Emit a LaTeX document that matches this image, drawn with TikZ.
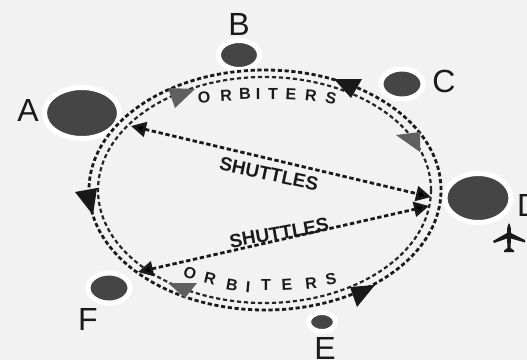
\documentclass[tikz,border=0pt]{standalone}
\usepackage{fontspec}
\setmainfont{Liberation Sans}
\usetikzlibrary{shapes.geometric,arrows.meta}
\definecolor{bgc}{HTML}{F2F2F2}
\definecolor{planet}{HTML}{454545}
\definecolor{headgray}{HTML}{606060}
\definecolor{ink}{HTML}{1A1A1A}
\tikzset{
  x=1pt,y=-1pt,
  planetnode/.style={ellipse,inner sep=0pt,fill=planet,draw=white,line width=5pt,minimum width=#1},
  orbitline/.style={ellipse,inner sep=0pt,draw=ink,line width=2.8pt,dash pattern=on 4.2pt off 2.6pt},
  orbitinner/.style={ellipse,inner sep=0pt,draw=ink!95,line width=2.2pt,dash pattern=on 4.2pt off 2.8pt},
  shuttleline/.style={draw=ink,line width=2.8pt,dash pattern=on 4.4pt off 2.6pt,{Triangle[length=15pt,width=15pt,fill=black]}-{Triangle[length=15pt,width=15pt,fill=black]}},
  bigletter/.style={font=\fontsize{32}{32}\selectfont,text=ink,inner sep=0pt},
  orbitletter/.style={font=\bfseries\fontsize{16}{16}\selectfont,text=ink,inner sep=0pt},
  shuttletext/.style={font=\bfseries\fontsize{19}{19}\selectfont,text=ink,inner sep=0pt},
  headblack/.style={fill=black!90},
  headgrey/.style={fill=headgray},
}
\begin{document}
\begin{tikzpicture}
\useasboundingbox (0,0) rectangle (527,360);
\clip (0,0) rectangle (527,360);
\fill[bgc] (0,0) rectangle (527,360);

% planets
\node[planetnode=75pt,minimum height=51pt] (A) at (82,113) {};
\node[planetnode=41pt,minimum height=29pt] (B) at (239,55) {};
\node[planetnode=42pt,minimum height=30pt] (C) at (402,84) {};
\node[planetnode=66pt,minimum height=49pt] (D) at (478,198) {};
\node[planetnode=27pt,minimum height=19pt] (E) at (322,322) {};
\node[planetnode=42pt,minimum height=30pt] (F) at (109,288) {};

% labels
\node[bigletter] (la) at (28,110) {A};
\node[bigletter] (lb) at (239,24) {B};
\node[bigletter] (lc) at (444,81) {C};
\node[bigletter,anchor=west] (ld) at (517,205) {D};
\node[bigletter] (le) at (325,348) {E};
\node[bigletter] (lf) at (88,319) {F};

% orbits
\node[orbitline,minimum width=352pt,minimum height=240pt] (outer) at (265,190) {};
\node[orbitinner,minimum width=333pt,minimum height=226pt] (inner) at (264.5,190) {};

% shuttle routes
\coordinate (sa1) at (131,126);
\coordinate (sd1) at (431,197);
\coordinate (sa2) at (138,272);
\coordinate (sd2) at (429,206);
\draw[shuttleline] (sa1) -- (sd1);
\draw[shuttleline] (sa2) -- (sd2);

% orbit arrowheads
\fill[headgrey] (168,88) -- (195,89) -- (175,108) -- cycle;
\fill[headblack] (334,79) -- (362,79) -- (351,98) -- cycle;
\fill[headgrey] (396,135) -- (420,132) -- (420,152) -- cycle;
\fill[headblack] (75,192) -- (97,188) -- (93,215) -- cycle;
\fill[headgrey] (168,283) -- (197,283) -- (185,298) -- cycle;
\fill[headblack] (350,287) -- (375,285) -- (357,307) -- cycle;

% top ORBITERS
\node[orbitletter,rotate=5] (t1) at (204,97) {O};
\node[orbitletter,rotate=3] (t2) at (226,96) {R};
\node[orbitletter,rotate=2] (t3) at (245,94) {B};
\node[orbitletter] (t4) at (258,94) {I};
\node[orbitletter] (t5) at (273,94) {T};
\node[orbitletter,rotate=-3] (t6) at (291,94) {E};
\node[orbitletter,rotate=-6] (t7) at (311,96) {R};
\node[orbitletter,rotate=-12] (t8) at (331,98) {S};

% bottom ORBITERS
\node[orbitletter,rotate=-18] (b1) at (190,273) {O};
\node[orbitletter,rotate=-14] (b2) at (210,279) {R};
\node[orbitletter,rotate=-10] (b3) at (232,285) {B};
\node[orbitletter,rotate=-5] (b4) at (248,287) {I};
\node[orbitletter] (b5) at (266,285) {T};
\node[orbitletter,rotate=3] (b6) at (287,285) {E};
\node[orbitletter,rotate=6] (b7) at (311,283) {R};
\node[orbitletter,rotate=10] (b8) at (331,279) {S};

% shuttle labels
\node[shuttletext,rotate=-12] (s1) at (269,174) {SHUTTLES};
\node[shuttletext,rotate=10] (s2) at (279,233) {SHUTTLES};

% airplane
\fill[ink] (509,223) .. controls (511,226) and (511,230) .. (511,233)
  -- (525,240) -- (525,242.5) -- (511,238.5) -- (510.5,248) -- (514,250.5) -- (514,252) -- (504,252) -- (504,250.5) -- (507.5,248) -- (507,238.5) -- (494,243) -- (493,241) -- (507,233)
  .. controls (507,230) and (507,226) .. (509,223) -- cycle;
\end{tikzpicture}
\end{document}
